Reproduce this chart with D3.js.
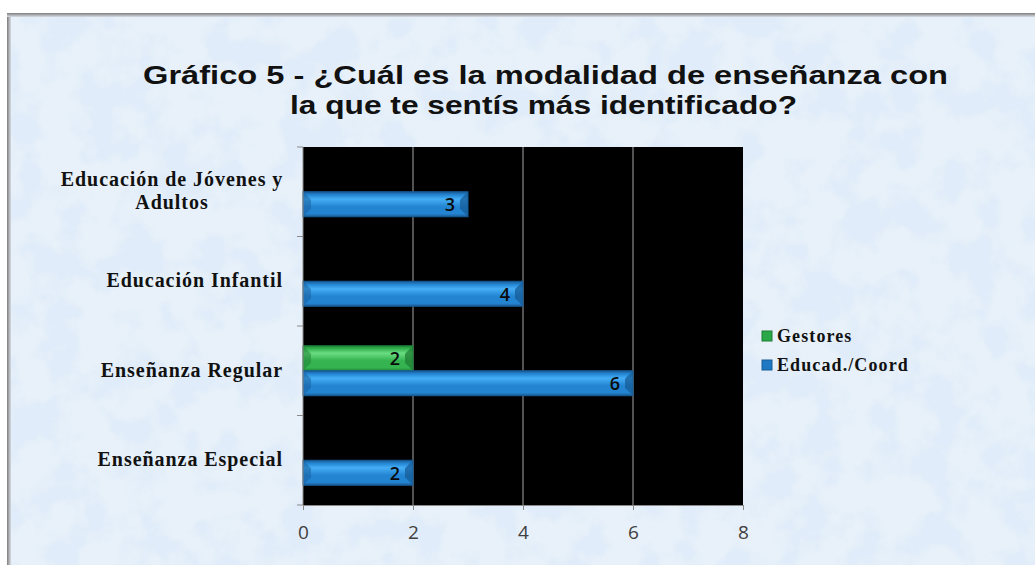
<!DOCTYPE html>
<html><head><meta charset="utf-8">
<script src="https://cdn.jsdelivr.net/npm/d3@7"></script>
<style>html,body{margin:0;padding:0;background:#fff;}svg{display:block;}</style>
</head><body>
<script>
const categories = ["Educación de Jóvenes y Adultos", "Educación Infantil", "Enseñanza Regular", "Enseñanza Especial"];
const categoryLines = [["Educación de Jóvenes y", "Adultos"], ["Educación Infantil"], ["Enseñanza Regular"], ["Enseñanza Especial"]];
const seriesNames = ["Gestores", "Educad./Coord"];
const gestores = [null, null, 2, null];
const educad = [3, 4, 6, 2];
const xTicks = [0, 2, 4, 6, 8];
const titleLines = ["Gráfico 5 -  ¿Cuál es la modalidad de enseñanza con", "la que te sentís  más identificado?"];

(function () {
const W = 1035, H = 565;
const svg = d3.select("body").append("svg").attr("width", W).attr("height", H);
const defs = svg.append("defs");

// background texture
const f = defs.append("filter").attr("id", "tex").attr("x", 0).attr("y", 0).attr("width", "100%").attr("height", "100%");
f.append("feTurbulence").attr("type", "fractalNoise").attr("baseFrequency", 0.025).attr("numOctaves", 4).attr("seed", 7).attr("result", "n");
f.append("feColorMatrix").attr("in", "n").attr("type", "matrix")
  .attr("values", "0 0 0 0 0.74  0 0 0 0 0.84  0 0 0 0 0.95  0 0 0 6 -2.7");

const shadowL = defs.append("linearGradient").attr("id", "shL").attr("x1", 0).attr("x2", 1).attr("y1", 0).attr("y2", 0);
shadowL.append("stop").attr("offset", 0).attr("stop-color", "#7d7d7d");
shadowL.append("stop").attr("offset", 1).attr("stop-color", "#d8dde4");
const shadowT = defs.append("linearGradient").attr("id", "shT").attr("x1", 0).attr("x2", 0).attr("y1", 0).attr("y2", 1);
shadowT.append("stop").attr("offset", 0).attr("stop-color", "#7d7d7d");
shadowT.append("stop").attr("offset", 1).attr("stop-color", "#d8dde4");

svg.append("rect").attr("x", 7).attr("y", 13).attr("width", W - 7).attr("height", H - 13).attr("fill", "#e8f1fa");
svg.append("rect").attr("x", 10).attr("y", 16).attr("width", W - 10).attr("height", H - 16).attr("fill", "#ffffff").attr("filter", "url(#tex)").attr("opacity", 0.8);
svg.append("rect").attr("x", 7).attr("y", 13).attr("width", 4).attr("height", H - 13).attr("fill", "url(#shL)");
svg.append("rect").attr("x", 7).attr("y", 13).attr("width", W - 7).attr("height", 4).attr("fill", "url(#shT)");

// gradients for bars
function barGrad(id, dark, mid, light) {
  const g = defs.append("linearGradient").attr("id", id).attr("x1", 0).attr("x2", 0).attr("y1", 0).attr("y2", 1);
  g.append("stop").attr("offset", 0).attr("stop-color", dark);
  g.append("stop").attr("offset", 0.12).attr("stop-color", mid);
  g.append("stop").attr("offset", 0.3).attr("stop-color", light);
  g.append("stop").attr("offset", 0.6).attr("stop-color", mid);
  g.append("stop").attr("offset", 0.88).attr("stop-color", mid);
  g.append("stop").attr("offset", 1).attr("stop-color", dark);
}
barGrad("gBlue", "#1b5a92", "#2384d2", "#45aef5");
barGrad("gGreen", "#1c8a35", "#34b350", "#6bdc82");
const colors = {"Gestores": "url(#gGreen)", "Educad./Coord": "url(#gBlue)"};
const solid = {"Gestores": "#2aa848", "Educad./Coord": "#1f78c4"};
const capDark = {"Gestores": "#1d7d33", "Educad./Coord": "#175c98"};

// title
const title = svg.append("g");
const tTargets = [[143, 948, 84], [290, 797, 114]];
titleLines.forEach((t, i) => {
  const el = title.append("text").attr("x", (tTargets[i][0] + tTargets[i][1]) / 2).attr("y", tTargets[i][2])
    .attr("text-anchor", "middle").attr("font-family", "'Liberation Sans', Arial, sans-serif")
    .attr("font-weight", "bold").attr("font-size", 26).attr("fill", "#111").text(t);
  el.attr("textLength", tTargets[i][1] - tTargets[i][0]).attr("lengthAdjust", "spacingAndGlyphs");
});

// plot
const pL = 303, pR = 743, pT = 147, pB = 505;
const x = d3.scaleLinear().domain([0, 8]).range([pL, pR]);
const y = d3.scaleBand().domain(categories).range([pT, pB]);
const y1 = d3.scaleBand().domain(seriesNames).range([0, 50]);

svg.append("rect").attr("x", pL).attr("y", pT).attr("width", pR - pL).attr("height", pB - pT).attr("fill", "#000");
svg.append("g").selectAll("line").data(xTicks.filter(d => d > 0 && d < 8)).join("line")
  .attr("x1", d => x(d)).attr("x2", d => x(d)).attr("y1", pT).attr("y2", pB)
  .attr("stroke", "#8a8a8a").attr("stroke-width", 1.2);

// bars
const rows = [];
categories.forEach((c, i) => {
  [[seriesNames[0], gestores[i]], [seriesNames[1], educad[i]]].forEach(([s, v]) => {
    if (v != null) rows.push({c, s, v});
  });
});
const bars = svg.append("g").selectAll("g").data(rows).join("g")
  .attr("transform", d => `translate(0,${y(d.c) + y.bandwidth() / 2 - 25 + y1(d.s)})`);
bars.append("rect").attr("x", x(0)).attr("y", 0).attr("width", d => x(d.v) - x(0)).attr("height", y1.bandwidth())
  .attr("fill", d => colors[d.s]).attr("stroke", d => capDark[d.s]).attr("stroke-width", 1);
bars.append("path").attr("d", d => {
  const xe = x(d.v), h = y1.bandwidth(), b = 8;
  return `M${xe},0 L${xe - b},${b} L${xe - b},${h - b} L${xe},${h} Z`;
}).attr("fill", d => capDark[d.s]).attr("opacity", 0.75);
bars.append("path").attr("d", d => {
  const xs = x(0), h = y1.bandwidth(), b = 8;
  return `M${xs},0 L${xs + b},${b} L${xs + b},${h - b} L${xs},${h} Z`;
}).attr("fill", d => capDark[d.s]).attr("opacity", 0.5);
bars.append("text").attr("x", d => x(d.v) - 13).attr("y", y1.bandwidth() / 2 + 7)
  .attr("text-anchor", "end").attr("font-family", "'Open Sans', 'Liberation Sans', sans-serif")
  .attr("font-weight", 600).attr("font-size", 18).attr("fill", "#0a0a0a").text(d => d.v);

// x axis
const xa = svg.append("g").attr("transform", `translate(0,${pB})`)
  .call(d3.axisBottom(x).tickValues(xTicks).tickSize(5).tickPadding(16));
xa.select(".domain").attr("stroke", "#8a8a8a");
xa.selectAll(".tick line").attr("stroke", "#8a8a8a");
xa.selectAll("text").attr("font-family", "'Open Sans', 'Liberation Sans', sans-serif").attr("font-size", 19).attr("fill", "#404040");

// y axis
const yTickPos = d3.range(categories.length + 1).map(i => pT + i * y.bandwidth());
svg.append("g").selectAll("line").data(yTickPos).join("line")
  .attr("x1", pL - 6).attr("x2", pL).attr("y1", d => d).attr("y2", d => d).attr("stroke", "#8a8a8a");
svg.append("line").attr("x1", pL).attr("x2", pL).attr("y1", pT).attr("y2", pB).attr("stroke", "#8a8a8a");

const yl = svg.append("g").selectAll("text").data(categories).join("text")
  .attr("font-family", "'Liberation Serif', 'Times New Roman', serif")
  .attr("font-weight", "bold").attr("font-size", 20).attr("letter-spacing", 0.95).attr("fill", "#111");
yl.each(function (d, i) {
  const lines = categoryLines[i];
  const cy = y(d) + y.bandwidth() / 2;
  const lh = 23;
  const el = d3.select(this).attr("y", cy - (lines.length - 1) * lh / 2 + 6);
  if (lines.length === 1) {
    el.attr("text-anchor", "end").attr("x", 283).text(lines[0]);
  } else {
    el.attr("text-anchor", "middle");
    lines.forEach((ln, j) => {
      el.append("tspan").attr("x", 172).attr("dy", j === 0 ? 0 : lh).text(ln);
    });
  }
});

// legend
const lg = svg.append("g").attr("transform", "translate(762,330)");
seriesNames.forEach((s, i) => {
  const g = lg.append("g").attr("transform", `translate(0,${i * 29})`);
  g.append("rect").attr("x", 0).attr("y", 1).attr("width", 10).attr("height", 10).attr("fill", solid[s]).attr("stroke", capDark[s]);
  g.append("text").attr("x", 15).attr("y", 12).attr("font-family", "'Liberation Serif', 'Times New Roman', serif")
    .attr("font-weight", "bold").attr("font-size", 18).attr("letter-spacing", 1.1).attr("fill", "#111").text(s);
});
})();
</script>
</body></html>
